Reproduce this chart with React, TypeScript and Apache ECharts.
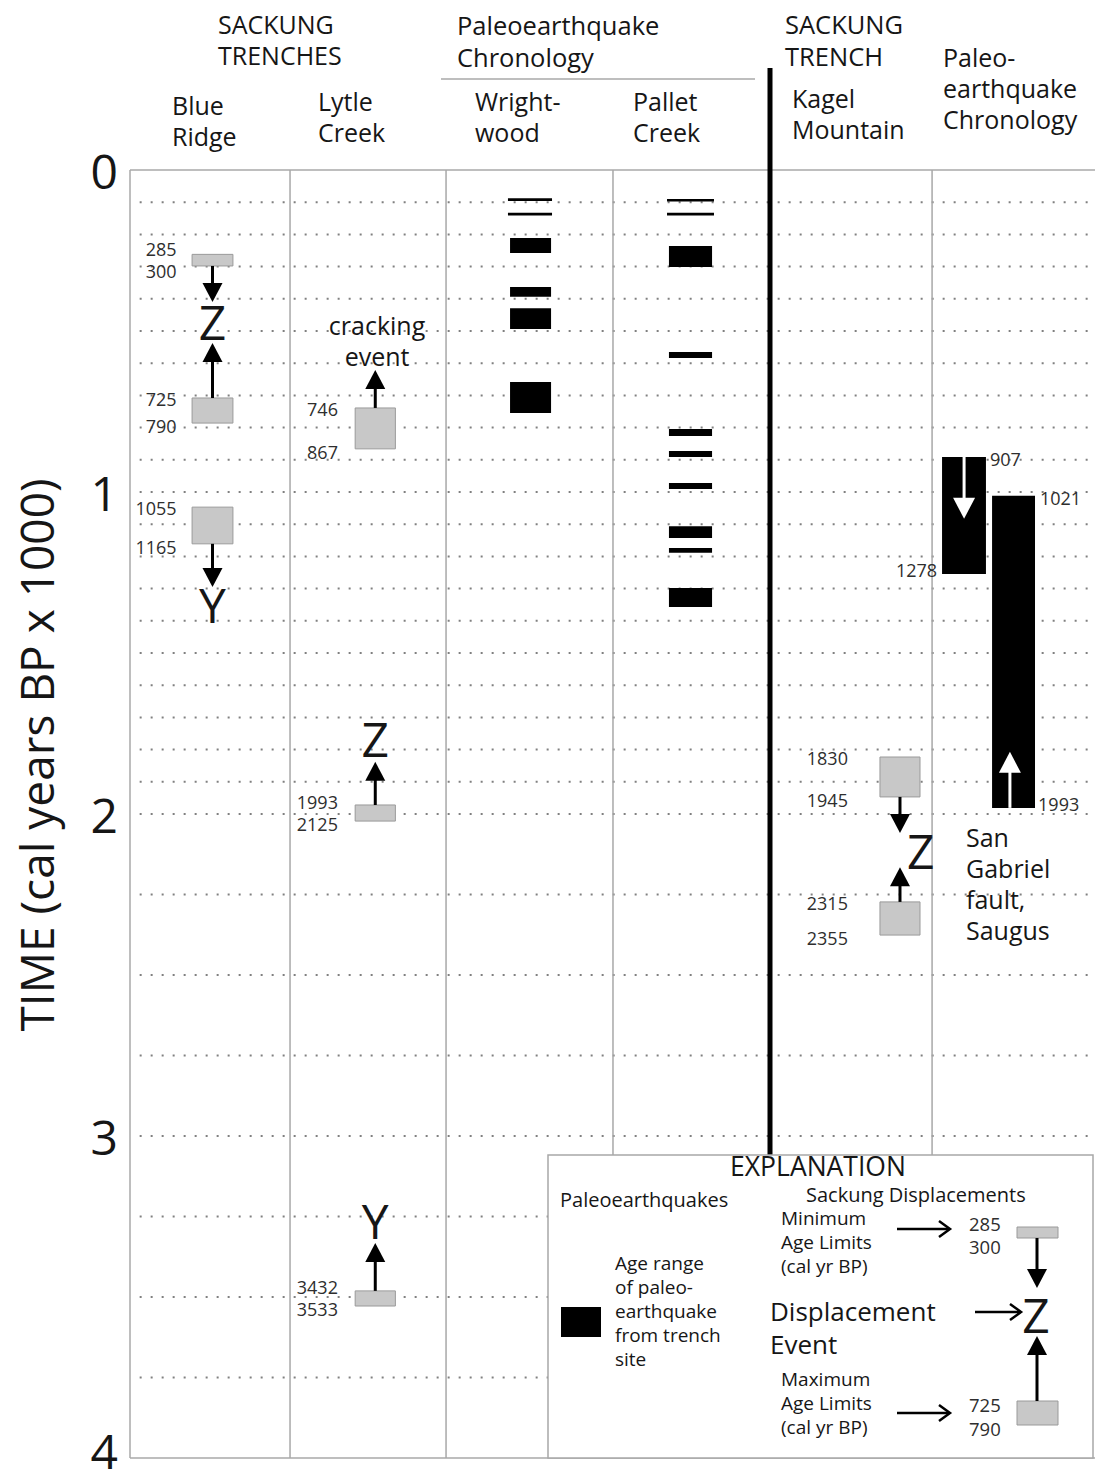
import React, { useEffect, useRef } from "react";
import * as echarts from "echarts";

// ================= DATA (cal yr BP) =================
const yTickLabels = ["0", "1", "2", "3", "4"];
const gridlineYears = [
  100, 200, 300, 400, 500, 600, 700, 800, 900, 1000, 1100, 1200, 1300, 1400, 1500,
  1600, 1700, 1800, 1900, 2000, 2250, 2500, 2750, 3000, 3250, 3500, 3750,
];

// Paleoearthquake age ranges (as drawn)
const wrightwoodEvents = [
  [88, 96], [133, 141], [211, 258], [363, 394], [429, 494], [658, 755],
];
const palletCreekEvents = [
  [90, 98], [133, 141], [236, 301], [565, 584], [804, 826], [873, 891],
  [972, 991], [1106, 1143], [1174, 1189], [1298, 1357],
];

// Sackung trenches: extents of grey boxes as drawn, and their age-limit labels
const blueRidgeBoxes = [[262, 298], [708, 786], [1047, 1161]];
const blueRidgeLimits = [[285, 300], [725, 790], [1055, 1165]];
const blueRidgeEvents: [string, number][] = [["Z", 472], ["Y", 1350]];
const blueRidgeArrows = [[298, 410], [708, 537], [1161, 1295]];

const lytleCreekBoxes = [[739, 866], [1972, 2022], [3481, 3528]];
const lytleCreekLimits = [[746, 867], [1993, 2125], [3432, 3533]];
const lytleCreekEvents: [string, number][] = [["Z", 1764], ["Y", 3261]];
const lytleCreekArrows = [[739, 621], [1972, 1838], [3481, 3332]];
const crackingEventYear = 528;

const kagelBoxes = [[1823, 1947], [2273, 2376]];
const kagelLimits = [[1830, 1945], [2315, 2355]];
const kagelEvents: [string, number][] = [["Z", 2112]];
const kagelArrows = [[1947, 2059], [2273, 2165]];

// San Gabriel fault (Saugus) paleoearthquake chronology
const sanGabrielRanges = [[891, 1255], [1012, 1981]];
const sanGabrielLimits = [[907, 1278], [1021, 1993]];
const sanGabrielArrows = [[891, 1083], [1981, 1807]];
const sanGabrielTextYear = 2216;

// ================= LAYOUT (hidden x axis: 1 unit per column) =================
const FONT = '"Open Sans", "Noto Sans", sans-serif';
const INK = "#161616";
const NUM = "#2e2e2e";
const BOX_FILL = "#c8c8c8";
const BOX_STROKE = "#9a9a9a";
const L = {
  colEdges: [0, 0.995, 1.965, 3.003, 4.987],
  gridStart: 0.06,
  blue: { x0: 0.386, x1: 0.64, label: 0.29 },
  lytle: { x0: 1.4, x1: 1.65, label: 1.293, text: 1.536 },
  wright: { x0: 2.363, x1: 2.618, t0: 2.35, t1: 2.624 },
  pallet: { x0: 3.351, x1: 3.619, t0: 3.339, t1: 3.631 },
  kagel: { x0: 4.663, x1: 4.912, label: 4.464, event: 4.831 },
  sg: {
    bars: [[5.049, 5.322], [5.36, 5.627]],
    arrows: [5.186, 5.471],
    labels: [
      { top: 5.347, topAlign: "left", bot: 5.018, botAlign: "right" },
      { top: 5.658, topAlign: "left", bot: 5.646, botAlign: "left" },
    ],
    text: 5.198,
  },
};

function arrowEls(p0: number[], p1: number[], color: string, hw = 10, hl = 19, sw = 3) {
  const dir = p1[1] > p0[1] ? 1 : -1;
  const baseY = p1[1] - dir * hl;
  return [
    { type: "line", shape: { x1: p0[0], y1: p0[1], x2: p0[0], y2: baseY + dir * 2 }, style: { stroke: color, lineWidth: sw } },
    { type: "polygon", shape: { points: [[p1[0], p1[1]], [p1[0] - hw, baseY], [p1[0] + hw, baseY]] }, style: { fill: color } },
  ];
}

function cust(name: string, data: any[], renderItem: any, z = 3) {
  return {
    type: "custom",
    name,
    coordinateSystem: "cartesian2d",
    clip: false,
    silent: true,
    z,
    data,
    encode: data[0].length === 3 ? { x: 0, y: [1, 2] } : { x: 0, y: 1 },
    renderItem,
  };
}

function boxSeries(name: string, ranges: number[][], x0: number, x1: number, fill: string, stroke?: string) {
  return cust(name, ranges.map((r) => [(x0 + x1) / 2, r[0], r[1]]), (p: any, api: any) => {
    const a = api.coord([x0, api.value(1)]);
    const b = api.coord([x1, api.value(2)]);
    return {
      type: "rect",
      shape: { x: a[0], y: a[1], width: b[0] - a[0], height: Math.max(b[1] - a[1], 2) },
      style: { fill, stroke: stroke || null, lineWidth: stroke ? 1 : 0 },
    };
  }, 4);
}

function quakeSeries(name: string, ranges: number[][], lay: any) {
  return cust(name, ranges.map((r) => [(lay.x0 + lay.x1) / 2, r[0], r[1]]), (p: any, api: any) => {
    const lo = api.value(1), hi = api.value(2);
    const thin = hi - lo < 10;
    const a = api.coord([thin ? lay.t0 : lay.x0, lo]);
    const b = api.coord([thin ? lay.t1 : lay.x1, hi]);
    return {
      type: "rect",
      shape: { x: a[0], y: a[1], width: b[0] - a[0], height: Math.max(b[1] - a[1], 2) },
      style: { fill: "#000" },
    };
  }, 4);
}

function arrowSeries(name: string, arrows: number[][], x: number | number[], color: string, hw = 10, hl = 19, sw = 3) {
  return cust(name, arrows.map((a, i) => [Array.isArray(x) ? x[i] : x, a[0], a[1]]), (p: any, api: any) => {
    const p0 = api.coord([api.value(0), api.value(1)]);
    const p1 = api.coord([api.value(0), api.value(2)]);
    return { type: "group", children: arrowEls(p0, p1, color, hw, hl, sw) };
  }, 5);
}

function letterSeries(name: string, events: [string, number][], x: number, align = "center") {
  return cust(name, events.map((e) => [x, e[1]]), (p: any, api: any) => {
    const c = api.coord([api.value(0), api.value(1)]);
    return {
      type: "text",
      x: c[0],
      y: c[1],
      style: { text: events[p.dataIndex][0], fill: INK, fontFamily: FONT, fontSize: 48, align, verticalAlign: "middle" },
    };
  }, 6);
}

function limitLabelSeries(name: string, boxes: number[][], limits: number[][], xr: number) {
  return cust(name, boxes.map((b) => [xr, b[0], b[1]]), (p: any, api: any) => {
    const t = api.coord([xr, api.value(1)]);
    const b = api.coord([xr, api.value(2)]);
    const mid = (t[1] + b[1]) / 2;
    const loY = Math.min(t[1] + 1, mid - 11);
    const hiY = Math.max(b[1] + 3, mid + 11);
    const lim = limits[p.dataIndex];
    const st = { fill: NUM, fontFamily: FONT, fontSize: 18, align: "right", verticalAlign: "middle", lineHeight: 20 };
    return {
      type: "group",
      children: [
        { type: "text", x: t[0], y: loY, style: { ...st, text: String(lim[0]) } },
        { type: "text", x: b[0], y: hiY, style: { ...st, text: String(lim[1]) } },
      ],
    };
  }, 6);
}

// ---------- graphic helpers (headers / legend, pixel layout) ----------
function gtext(x: number, y: number, text: string, o: any = {}) {
  return {
    type: "text",
    x,
    y,
    z: 60,
    style: { text, fill: INK, fontFamily: FONT, fontSize: 26, align: "left", verticalAlign: "middle", ...o },
  };
}
function mtext(x: number, firstCenterY: number, text: string, lh: number, fs: number, o: any = {}) {
  return gtext(x, firstCenterY - lh / 2, text, { fontSize: fs, lineHeight: lh, verticalAlign: "top", ...o });
}
function rightArrow(x1: number, x2: number, y: number) {
  return [
    { type: "line", z: 60, shape: { x1, y1: y, x2: x2 - 1, y2: y }, style: { stroke: "#000", lineWidth: 2.5 } },
    { type: "polyline", z: 60, shape: { points: [[x2 - 11, y - 8], [x2, y], [x2 - 11, y + 8]] }, style: { stroke: "#000", lineWidth: 2.5, fill: null } },
  ];
}
function vArrow(x: number, y0: number, y1: number) {
  return arrowEls([x, y0], [x, y1], "#000").map((e) => ({ ...e, z: 60 }));
}

const yTitle: any = gtext(36, 755, "TIME (cal years BP x 1000)", { fontSize: 46, align: "center" });
yTitle.rotation = Math.PI / 2;

const HF = 25; // header font size
const headers = [
  mtext(218, 24, "SACKUNG\nTRENCHES", 31, HF),
  mtext(172, 105, "Blue\nRidge", 31, HF),
  mtext(318, 101, "Lytle\nCreek", 31, HF),
  mtext(457, 25, "Paleoearthquake\nChronology", 32, 25.5),
  mtext(475, 101, "Wright-\nwood", 31, HF),
  mtext(633, 101, "Pallet\nCreek", 31, HF),
  mtext(785, 24, "SACKUNG\nTRENCH", 32, 25.5),
  mtext(792, 98, "Kagel\nMountain", 31, HF),
  mtext(943, 57, "Paleo-\nearthquake\nChronology", 31, HF),
  { type: "line", z: 60, shape: { x1: 441, y1: 79, x2: 755, y2: 79 }, style: { stroke: "#a8a8a8", lineWidth: 1.5 } },
  { type: "line", z: 55, shape: { x1: 770, y1: 68, x2: 770, y2: 1156 }, style: { stroke: "#000", lineWidth: 5 } },
  yTitle,
];

const legend = [
  { type: "rect", z: 58, shape: { x: 548, y: 1155, width: 545, height: 303 }, style: { fill: "#fff", stroke: "#a8a8a8", lineWidth: 1.5 } },
  gtext(818, 1166, "EXPLANATION", { fontSize: 26.5, align: "center" }),
  gtext(560, 1199, "Paleoearthquakes", { fontSize: 20 }),
  gtext(806, 1194, "Sackung Displacements", { fontSize: 20 }),
  mtext(781, 1218, "Minimum\nAge Limits\n(cal yr BP)", 24, 19),
  mtext(781, 1379, "Maximum\nAge Limits\n(cal yr BP)", 24, 19),
  mtext(615, 1263, "Age range\nof paleo-\nearthquake\nfrom trench\nsite", 24, 19),
  mtext(770, 1311, "Displacement\nEvent", 32.5, 26),
  { type: "rect", z: 60, shape: { x: 561, y: 1307, width: 40, height: 30 }, style: { fill: "#000" } },
  ...rightArrow(897, 950, 1229),
  ...rightArrow(897, 950, 1413),
  ...rightArrow(975, 1021, 1312),
  mtext(969, 1223, "285\n300", 23.5, 18.5, { fill: NUM }),
  mtext(969, 1404, "725\n790", 24, 18.5, { fill: NUM }),
  { type: "rect", z: 60, shape: { x: 1017, y: 1227, width: 41, height: 11 }, style: { fill: BOX_FILL, stroke: BOX_STROKE, lineWidth: 1 } },
  { type: "rect", z: 60, shape: { x: 1017, y: 1401, width: 41, height: 24 }, style: { fill: BOX_FILL, stroke: BOX_STROKE, lineWidth: 1 } },
  ...vArrow(1037, 1238, 1288),
  ...vArrow(1037, 1401, 1336),
  gtext(1036, 1314, "Z", { fontSize: 48, align: "center" }),
];

const option: any = {
  animation: false,
  backgroundColor: "#fff",
  grid: { left: 130, right: 5, top: 170, bottom: 24, containLabel: false, outerBoundsMode: "none" },
  xAxis: { type: "value", min: 0, max: 6, show: false },
  yAxis: {
    type: "value",
    inverse: true,
    min: 0,
    max: 4000,
    interval: 1000,
    axisLine: { show: false },
    axisTick: { show: false },
    splitLine: { show: false },
    axisLabel: {
      margin: 12,
      fontSize: 48,
      lineHeight: 40,
      fontFamily: FONT,
      color: INK,
      formatter: (v: number) => {
        const i = Math.round(v / 1000);
        return i === 4 ? "{last|" + yTickLabels[i] + "}" : yTickLabels[i];
      },
      rich: {
        last: { fontSize: 48, lineHeight: 36, fontFamily: FONT, color: INK, padding: [0, 0, 16, 0] },
      },
    },
  },
  series: [
    // dotted time gridlines
    cust("gridlines", gridlineYears.map((v) => [L.gridStart, v]), (p: any, api: any) => {
      const a = api.coord([L.gridStart, api.value(1)]);
      const b = api.coord([6, api.value(1)]);
      return { type: "line", shape: { x1: a[0], y1: a[1], x2: b[0], y2: b[1] }, style: { stroke: "#808080", lineWidth: 2, lineDash: [2, 9] } };
    }, 1),
    // top / bottom frame
    cust("frame", [[0, 0], [0, 4000]], (p: any, api: any) => {
      const a = api.coord([0, api.value(1)]);
      const b = api.coord([6, api.value(1)]);
      return { type: "line", shape: { x1: a[0], y1: a[1], x2: b[0], y2: b[1] }, style: { stroke: "#a8a8a8", lineWidth: 1.5 } };
    }, 1),
    // column separators
    cust("columns", L.colEdges.map((x) => [x, 0]), (p: any, api: any) => {
      const a = api.coord([api.value(0), 0]);
      const b = api.coord([api.value(0), 4000]);
      return { type: "line", shape: { x1: a[0], y1: a[1], x2: b[0], y2: b[1] }, style: { stroke: "#a8a8a8", lineWidth: 1.5 } };
    }, 1),

    // paleoearthquakes
    quakeSeries("Wrightwood", wrightwoodEvents, L.wright),
    quakeSeries("Pallet Creek", palletCreekEvents, L.pallet),

    // Blue Ridge
    boxSeries("Blue Ridge boxes", blueRidgeBoxes, L.blue.x0, L.blue.x1, BOX_FILL, BOX_STROKE),
    arrowSeries("Blue Ridge arrows", blueRidgeArrows, (L.blue.x0 + L.blue.x1) / 2, "#000"),
    letterSeries("Blue Ridge events", blueRidgeEvents, (L.blue.x0 + L.blue.x1) / 2),
    limitLabelSeries("Blue Ridge limits", blueRidgeBoxes, blueRidgeLimits, L.blue.label),

    // Lytle Creek
    boxSeries("Lytle Creek boxes", lytleCreekBoxes, L.lytle.x0, L.lytle.x1, BOX_FILL, BOX_STROKE),
    arrowSeries("Lytle Creek arrows", lytleCreekArrows, (L.lytle.x0 + L.lytle.x1) / 2, "#000"),
    letterSeries("Lytle Creek events", lytleCreekEvents, (L.lytle.x0 + L.lytle.x1) / 2),
    limitLabelSeries("Lytle Creek limits", lytleCreekBoxes, lytleCreekLimits, L.lytle.label),
    cust("cracking", [[L.lytle.text, crackingEventYear]], (p: any, api: any) => {
      const c = api.coord([api.value(0), api.value(1)]);
      return { type: "text", x: c[0], y: c[1], style: { text: "cracking\nevent", fill: INK, fontFamily: FONT, fontSize: HF, lineHeight: 31, align: "center", verticalAlign: "middle" } };
    }, 6),

    // Kagel Mountain
    boxSeries("Kagel boxes", kagelBoxes, L.kagel.x0, L.kagel.x1, BOX_FILL, BOX_STROKE),
    arrowSeries("Kagel arrows", kagelArrows, (L.kagel.x0 + L.kagel.x1) / 2, "#000"),
    letterSeries("Kagel events", kagelEvents, L.kagel.event, "left"),
    limitLabelSeries("Kagel limits", kagelBoxes, kagelLimits, L.kagel.label),

    // San Gabriel fault chronology
    cust("San Gabriel", sanGabrielRanges.map((r, i) => [L.sg.bars[i][0], r[0], r[1]]), (p: any, api: any) => {
      const bx = L.sg.bars[p.dataIndex];
      const a = api.coord([bx[0], api.value(1)]);
      const b = api.coord([bx[1], api.value(2)]);
      return { type: "rect", shape: { x: a[0], y: a[1], width: b[0] - a[0], height: b[1] - a[1] }, style: { fill: "#000" } };
    }, 4),
    arrowSeries("San Gabriel arrows", sanGabrielArrows, L.sg.arrows, "#fff", 11, 21, 3),
    cust("San Gabriel limits", sanGabrielRanges.map((r) => [5.5, r[0], r[1]]), (p: any, api: any) => {
      const lay = L.sg.labels[p.dataIndex];
      const lim = sanGabrielLimits[p.dataIndex];
      const t = api.coord([lay.top, api.value(1)]);
      const b = api.coord([lay.bot, api.value(2)]);
      const st = { fill: NUM, fontFamily: FONT, fontSize: 18, verticalAlign: "middle" };
      return {
        type: "group",
        children: [
          { type: "text", x: t[0], y: t[1] + 2, style: { ...st, text: String(lim[0]), align: lay.topAlign } },
          { type: "text", x: b[0], y: b[1] - 4, style: { ...st, text: String(lim[1]), align: lay.botAlign } },
        ],
      };
    }, 6),
    cust("San Gabriel text", [[L.sg.text, sanGabrielTextYear]], (p: any, api: any) => {
      const c = api.coord([api.value(0), api.value(1)]);
      return { type: "text", x: c[0], y: c[1], style: { text: "San\nGabriel\nfault,\nSaugus", fill: INK, fontFamily: FONT, fontSize: HF, lineHeight: 31, align: "left", verticalAlign: "middle" } };
    }, 6),
  ],
  graphic: { elements: [...headers, ...legend] },
};

export default function App() {
  const ref = useRef<HTMLDivElement>(null);
  useEffect(() => {
    const chart = echarts.init(ref.current!, null, { renderer: "svg" });
    chart.setOption(option);
    return () => chart.dispose();
  }, []);
  return (
    <div
      ref={ref}
      style={{ position: "absolute", left: 0, top: 0, width: 1100, height: 1482, background: "#fff" }}
    />
  );
}
